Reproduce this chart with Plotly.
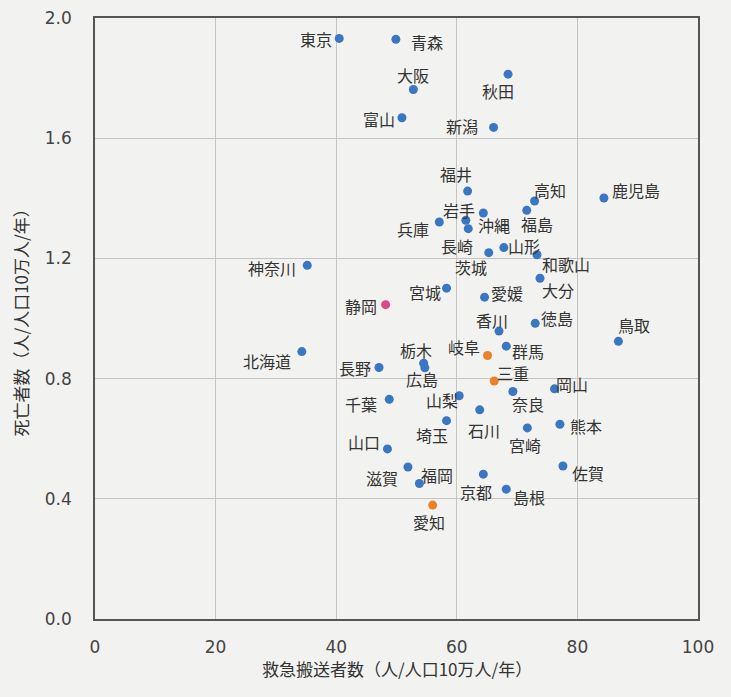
import plotly.graph_objects as go

# ---- data ----
prefectures = ["東京", "青森", "大阪", "秋田", "富山", "新潟", "福井", "高知", "鹿児島", "岩手",
               "沖縄", "福島", "兵庫", "長崎", "山形", "茨城", "和歌山", "大分", "宮城", "愛媛",
               "静岡", "神奈川", "北海道", "長野", "栃木", "広島", "千葉", "山梨", "岐阜", "三重",
               "香川", "徳島", "鳥取", "群馬", "奈良", "岡山", "熊本", "宮崎", "佐賀", "島根",
               "京都", "石川", "埼玉", "山口", "滋賀", "福岡", "愛知"]
transport = [40.5, 49.9, 52.8, 68.5, 50.9, 66.1, 61.8, 72.9, 84.4, 64.4,
             61.5, 71.6, 57.1, 61.9, 67.8, 65.3, 73.3, 73.8, 58.3, 64.6,
             48.2, 35.2, 34.3, 47.1, 54.5, 54.7, 48.8, 60.4, 65.1, 66.2,
             67.0, 73.0, 86.8, 68.2, 69.3, 76.2, 77.1, 71.7, 77.6, 68.2,
             64.4, 63.8, 58.3, 48.5, 51.9, 53.8, 56.0]
deaths = [1.932, 1.929, 1.762, 1.813, 1.668, 1.636, 1.424, 1.391, 1.401, 1.351,
          1.327, 1.360, 1.321, 1.299, 1.236, 1.219, 1.212, 1.134, 1.101, 1.071,
          1.046, 1.177, 0.890, 0.837, 0.851, 0.836, 0.731, 0.743, 0.877, 0.792,
          0.958, 0.984, 0.924, 0.908, 0.757, 0.766, 0.648, 0.636, 0.509, 0.432,
          0.482, 0.696, 0.660, 0.566, 0.506, 0.451, 0.379]
group = ["other"] * 47
group[prefectures.index("静岡")] = "shizuoka"
for p in ["岐阜", "三重", "愛知"]:
    group[prefectures.index(p)] = "tokai"

x_ticks = [0, 20, 40, 60, 80, 100]
y_ticks = [0.0, 0.4, 0.8, 1.2, 1.6, 2.0]
x_title = "救急搬送者数（人/人口10万人/年）"
y_title = "死亡者数（人/人口10万人/年）"

# ---- styles ----
colors = {"other": "#3a77c2", "tokai": "#ec8227", "shizuoka": "#e0468c"}
# label offsets (px, right / down) relative to each dot
label_dx = [-23, 31, 0, -10, -23, -32, -12, 15, 32, -24,
            28, 10, -26, -11, 20, -18, 29, 18, -22, 22,
            -25, -35, -35, -24, -8, -3, -28, -17, -24, 19,
            -7, 22, 16, 22, 15, 18, 26, -2, 25, 23,
            -7, 4, -15, -23, -26, 18, -4]
label_dy = [1, 3, -15, 17, 1, -1, -17, -11, -8, -3,
            5, 14, 7, 17, -2, 14, 9, 12, 4, -4,
            1, 3, 9, 1, -13, 11, 5, 4, -8, -8,
            -11, -5, -16, 5, 12, -5, 2, 17, 7, 8,
            18, 20, 14, -7, 11, -8, 17]

bg = "#f2f2f0"
fig = go.Figure()
fig.add_trace(go.Scatter(
    x=transport, y=deaths, mode="markers",
    marker=dict(size=9, color=[colors[g] for g in group], line=dict(width=0)),
    hovertext=prefectures, showlegend=False,
))

for name, xv, yv, dx, dy in zip(prefectures, transport, deaths, label_dx, label_dy):
    fig.add_annotation(x=xv, y=yv, xref="x", yref="y", text=name, showarrow=False,
                       xshift=dx, yshift=-dy, xanchor="center", yanchor="middle",
                       font=dict(family="Noto Sans CJK JP", size=16, color="#333333"))

fig.add_annotation(x=0.5, y=0, xref="paper", yref="paper", text=x_title, showarrow=False,
                   xanchor="center", yanchor="middle", yshift=-49,
                   font=dict(family="Noto Sans CJK JP", size=17, color="#333333"))
fig.add_annotation(x=0, y=0.5, xref="paper", yref="paper", text=y_title, showarrow=False,
                   textangle=-90, xanchor="center", yanchor="middle", xshift=-75,
                   font=dict(family="Noto Sans CJK JP", size=17, color="#333333"))

axis_common = dict(showline=True, mirror=True, linecolor="#555555", linewidth=1.5,
                   showgrid=True, gridcolor="#c4c4c4", gridwidth=1, zeroline=False,
                   ticks="outside", tickcolor="rgba(0,0,0,0)", automargin=False,
                   tickfont=dict(family="DejaVu Sans", size=17, color="#444444"))
fig.update_xaxes(range=[0, 100], tickvals=x_ticks, ticklen=12, **axis_common)
fig.update_yaxes(range=[0, 2.0], tickvals=y_ticks, tickformat=".1f", ticklen=18, **axis_common)

fig.update_layout(width=731, height=697, margin=dict(l=95, r=33, t=18, b=78),
                  paper_bgcolor=bg, plot_bgcolor=bg)

fig.write_html("out.html", config={"displayModeBar": False},
               post_script="document.body.style.margin='0';document.body.style.background='%s';" % bg)
